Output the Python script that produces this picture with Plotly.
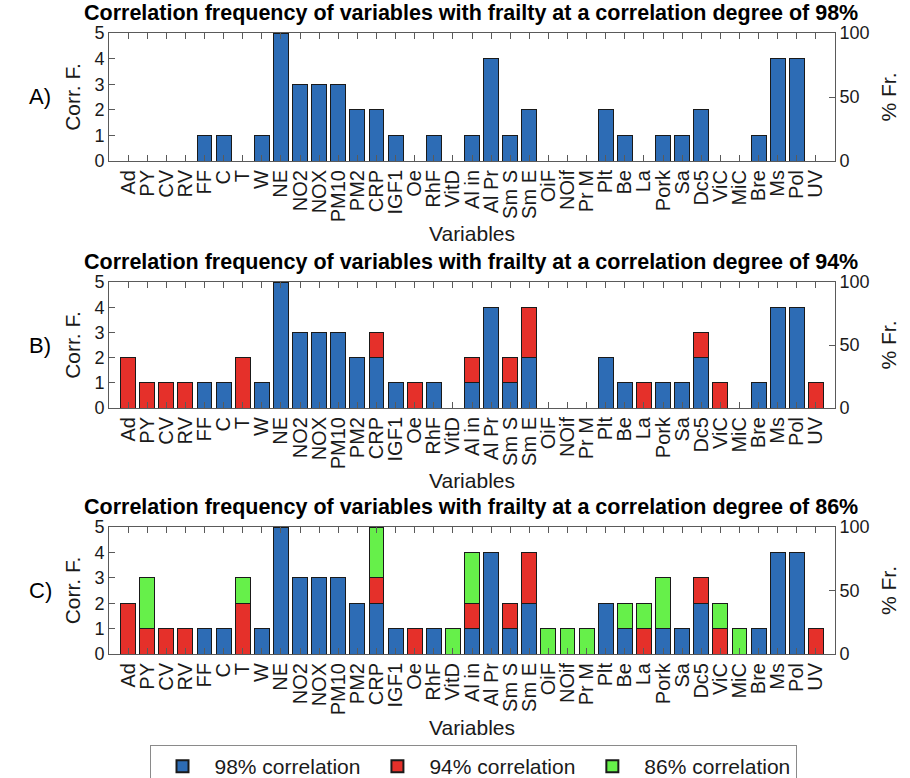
import plotly.graph_objects as go

categories = ["Ad", "PY", "CV", "RV", "FF", "C", "T", "W", "NE", "NO2", "NOX", "PM10",
              "PM2", "CRP", "IGF1", "Oe", "RhF", "VitD", "Al in", "Al Pr", "Sm S", "Sm E",
              "OiF", "NOif", "Pr M", "Plt", "Be", "La", "Pork", "Sa", "Dc5", "ViC", "MiC",
              "Bre", "Ms", "Pol", "UV"]

corr98 = [0, 0, 0, 0, 1, 1, 0, 1, 5, 3, 3, 3, 2, 2, 1, 0, 1, 0, 1, 4, 1, 2,
          0, 0, 0, 2, 1, 0, 1, 1, 2, 0, 0, 1, 4, 4, 0]
corr94_extra = [2, 1, 1, 1, 0, 0, 2, 0, 0, 0, 0, 0, 0, 1, 0, 1, 0, 0, 1, 0, 1, 2,
                0, 0, 0, 0, 0, 1, 0, 0, 1, 1, 0, 0, 0, 0, 1]
corr86_extra = [0, 2, 0, 0, 0, 0, 1, 0, 0, 0, 0, 0, 0, 2, 0, 0, 0, 1, 2, 0, 0, 0,
                1, 1, 1, 0, 1, 1, 2, 0, 0, 1, 1, 0, 0, 0, 0]

panel_titles = [
    "Correlation frequency of variables with frailty at a correlation degree of 98%",
    "Correlation frequency of variables with frailty at a correlation degree of 94%",
    "Correlation frequency of variables with frailty at a correlation degree of 86%",
]
panel_labels = ["A)", "B)", "C)"]
series_names = ["98% correlation", "94% correlation", "86% correlation"]
colors = ["#2D6CB5", "#E5302A", "#66F04A"]
max_freq = 5

W, H = 910, 778
FONT = "Liberation Sans, Arial, Helvetica, sans-serif"

# panel pixel geometry (top, bottom)
panels_px = [(33, 161), (282, 408), (527, 654)]
x0_px, x1_px = 109, 835

def py(p):
    return 1 - p / H

fig = go.Figure()

series_data = [corr98, corr94_extra, corr86_extra]
for i in range(3):
    xa = "x" if i == 0 else f"x{i+1}"
    ya = "y" if i == 0 else f"y{i+1}"
    totals = [0] * len(categories)
    for s in range(i + 1):
        vals = [v if v != 0 else None for v in series_data[s]]
        totals = [t + v for t, v in zip(totals, series_data[s])]
        fig.add_trace(go.Bar(
            x=categories, y=vals, name=series_names[s],
            marker=dict(color=colors[s], line=dict(color="#1a1a1a", width=1)),
            width=0.78, xaxis=xa, yaxis=ya,
            legendgroup=series_names[s], showlegend=(i == 2),
        ))
    # percentage frequency on the right axis (invisible, carries the % axis)
    fig.add_trace(go.Scatter(
        x=categories, y=[t / max_freq * 100 for t in totals], mode="none",
        xaxis=xa, yaxis=f"y{i+4}", showlegend=False, hoverinfo="skip",
    ))

layout = dict(
    width=W, height=H,
    margin=dict(l=0, r=0, t=0, b=0, autoexpand=False),
    paper_bgcolor="white", plot_bgcolor="white",
    barmode="stack",
    font=dict(family=FONT, color="#1a1a1a"),
    showlegend=True,
    legend=dict(orientation="h", x=473 / W, xanchor="center", y=py(745), yanchor="top",
                bordercolor="#8a8a8a", borderwidth=1, font=dict(size=21),
                itemsizing="constant", traceorder="normal", itemwidth=54),
)

annotations = []
axis_line = "#5a5a5a"
for i, (top, bot) in enumerate(panels_px):
    n = "" if i == 0 else str(i + 1)
    rn = str(i + 4)
    dom = [py(bot), py(top)]
    layout["xaxis" + n] = dict(
        domain=[x0_px / W, x1_px / W], anchor="y" + n,
        type="category", categoryorder="array", categoryarray=categories,
        tickmode="array", tickvals=categories, ticktext=categories,
        range=[-1, 37], tickangle=-90, tickfont=dict(size=20),
        ticks="inside", ticklen=6, tickcolor=axis_line,
        showline=True, linecolor=axis_line, linewidth=1, mirror="ticks",
        showgrid=False, fixedrange=True, automargin=False,
    )
    layout["yaxis" + n] = dict(
        domain=dom, anchor="x" + n, range=[0, 5], dtick=1,
        tickfont=dict(size=18), ticks="inside", ticklen=6, tickcolor=axis_line,
        showline=True, linecolor=axis_line, linewidth=1, showgrid=False, zeroline=False,
        title=dict(text="Corr. F.", font=dict(size=21), standoff=8), automargin=False,
    )
    layout["yaxis" + rn] = dict(
        domain=dom, anchor="x" + n, overlaying="y" + n, side="right",
        range=[0, 100], tickvals=[0, 50, 100],
        tickfont=dict(size=18), ticks="inside", ticklen=6, tickcolor=axis_line,
        showline=True, linecolor=axis_line, linewidth=1, showgrid=False, zeroline=False,
        title=dict(text="% Fr.", font=dict(size=21), standoff=12), automargin=False,
    )
    annotations.append(dict(
        text="<b>" + panel_titles[i] + "</b>", xref="paper", yref="paper",
        x=471 / W, y=py(top - 20.5), xanchor="center", yanchor="middle",
        showarrow=False, font=dict(size=21.5, color="black"),
    ))
    annotations.append(dict(
        text=panel_labels[i], xref="paper", yref="paper",
        x=40 / W, y=py((top + bot) / 2), xanchor="center", yanchor="middle",
        showarrow=False, font=dict(size=22, color="black"),
    ))
    annotations.append(dict(
        text="Variables", xref="paper", yref="paper",
        x=472 / W, y=py(bot + 73), xanchor="center", yanchor="middle",
        showarrow=False, font=dict(size=21),
    ))

layout["annotations"] = annotations
fig.update_layout(**layout)

fig.write_html("out.html", config={"displayModeBar": False},
               post_script="document.body.style.margin='0';document.body.style.overflow='hidden';")
